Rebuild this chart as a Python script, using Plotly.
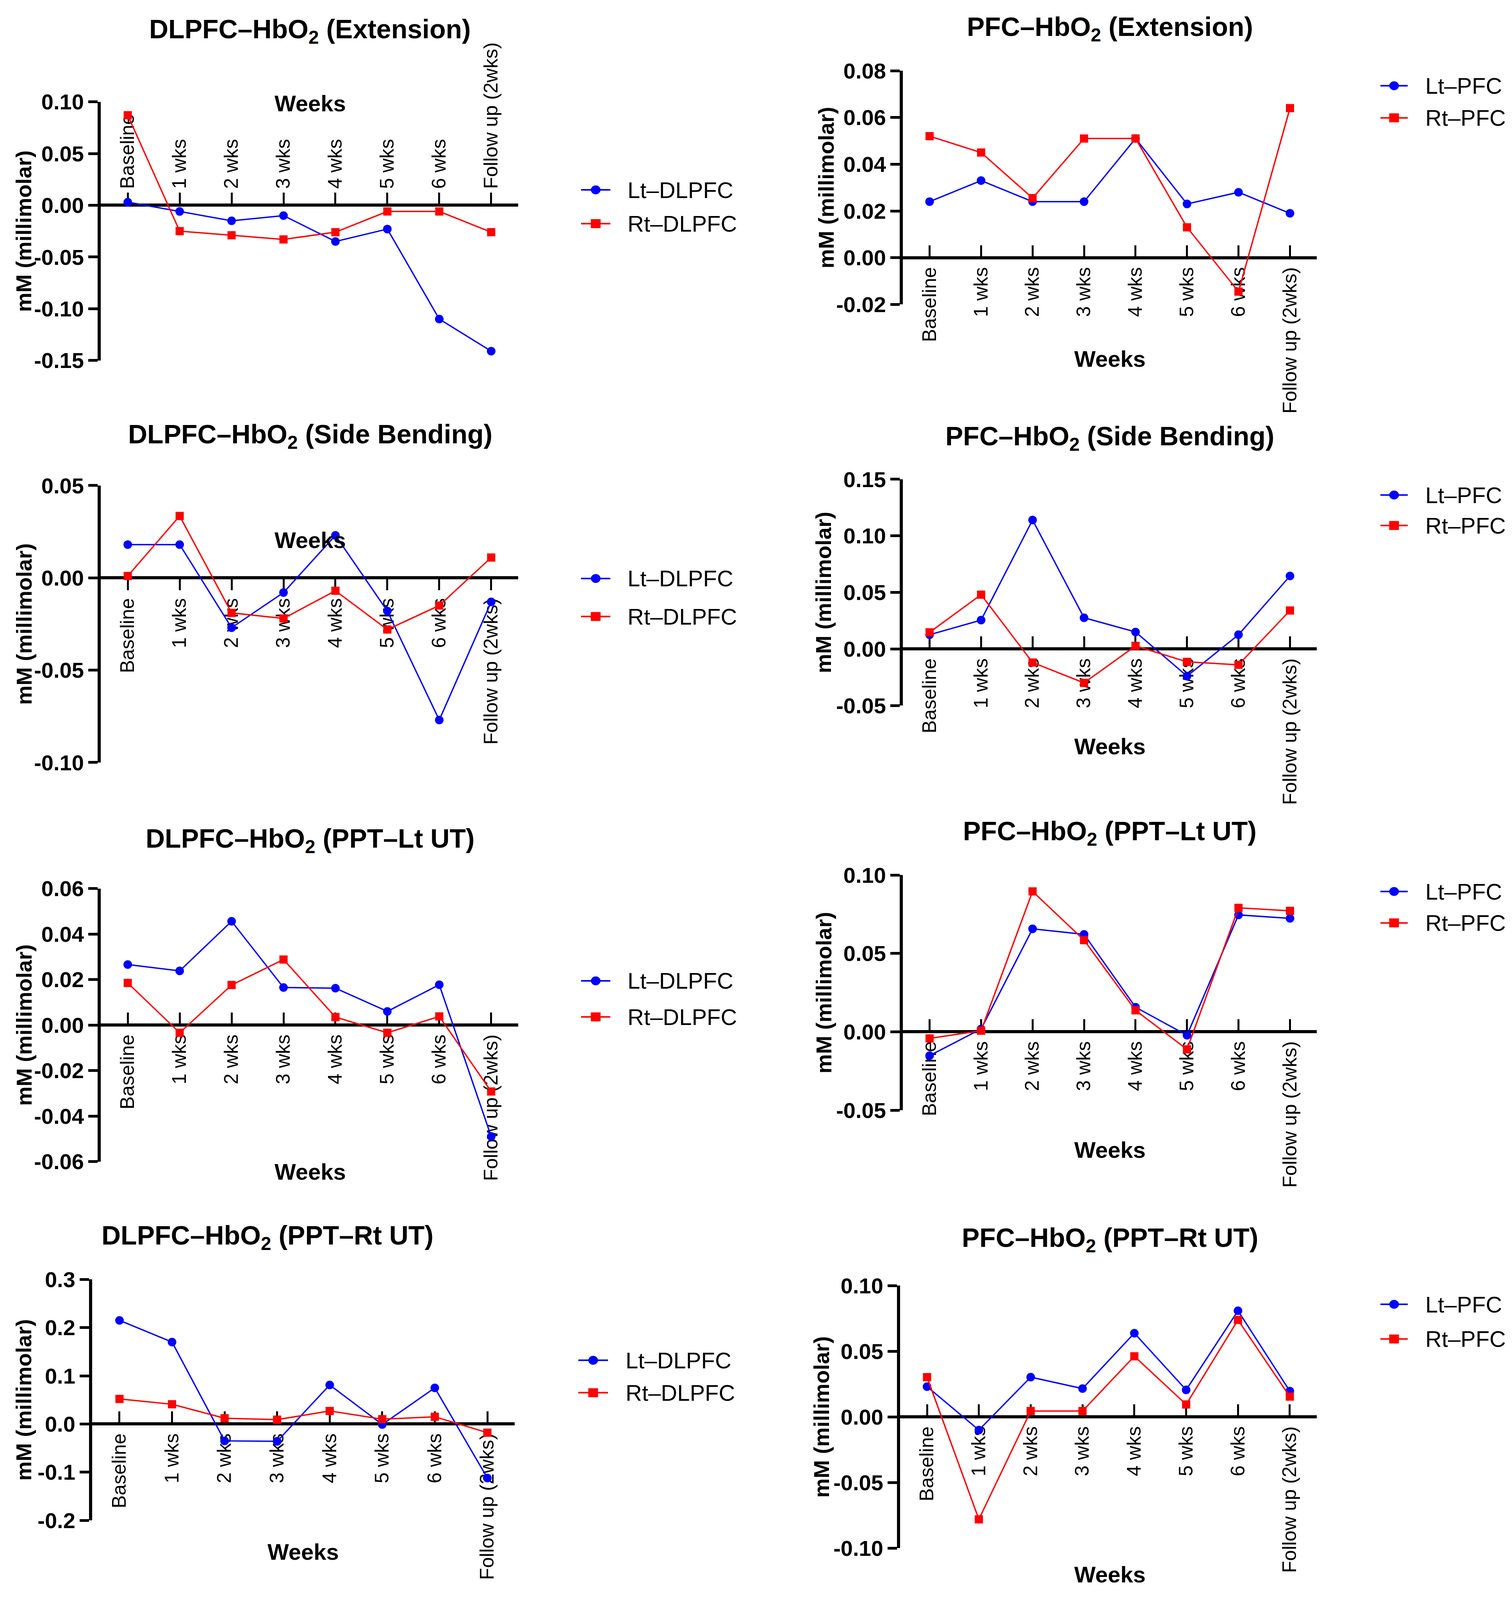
import plotly.graph_objects as go

W, H = 3872, 4812
FONT = "Liberation Sans, Arial, sans-serif"

categories = ["Baseline", "1 wks", "2 wks", "3 wks", "4 wks", "5 wks", "6 wks", "Follow up (2wks)"]

ext_dlpfc_lt = [0.003, -0.006, -0.015, -0.010, -0.035, -0.023, -0.110, -0.141]
ext_dlpfc_rt = [0.087, -0.025, -0.029, -0.033, -0.026, -0.006, -0.006, -0.026]
ext_pfc_lt = [0.024, 0.033, 0.024, 0.024, 0.051, 0.023, 0.028, 0.019]
ext_pfc_rt = [0.052, 0.045, 0.0255, 0.051, 0.051, 0.013, -0.0145, 0.064]
sb_dlpfc_lt = [0.018, 0.018, -0.027, -0.008, 0.023, -0.018, -0.077, -0.013]
sb_dlpfc_rt = [0.001, 0.0335, -0.019, -0.022, -0.007, -0.028, -0.015, 0.011]
sb_pfc_lt = [0.0126, 0.0255, 0.114, 0.0276, 0.015, -0.024, 0.0126, 0.0645]
sb_pfc_rt = [0.0147, 0.048, -0.012, -0.030, 0.0027, -0.0114, -0.014, 0.034]
lut_dlpfc_lt = [0.0266, 0.0238, 0.0456, 0.0165, 0.0162, 0.006, 0.0177, -0.049]
lut_dlpfc_rt = [0.0185, -0.0034, 0.0176, 0.0288, 0.0035, -0.0034, 0.0038, -0.0292]
lut_pfc_lt = [-0.0152, 0.0018, 0.0657, 0.0622, 0.0157, -0.0022, 0.0746, 0.0724]
lut_pfc_rt = [-0.0042, 0.0007, 0.0896, 0.0585, 0.0137, -0.0112, 0.0791, 0.0772]
rut_dlpfc_lt = [0.215, 0.170, -0.035, -0.036, 0.081, -0.001, 0.075, -0.112]
rut_dlpfc_rt = [0.052, 0.041, 0.012, 0.009, 0.027, 0.010, 0.015, -0.018]
rut_pfc_lt = [0.0231, -0.010, 0.0303, 0.0216, 0.0638, 0.0206, 0.0809, 0.0197]
rut_pfc_rt = [0.0303, -0.078, 0.0045, 0.0045, 0.0462, 0.0095, 0.0739, 0.0155]

titles = [
    "DLPFC–HbO<sub>2</sub> (Extension)", "PFC–HbO<sub>2</sub> (Extension)",
    "DLPFC–HbO<sub>2</sub> (Side Bending)", "PFC–HbO<sub>2</sub> (Side Bending)",
    "DLPFC–HbO<sub>2</sub> (PPT–Lt UT)", "PFC–HbO<sub>2</sub> (PPT–Lt UT)",
    "DLPFC–HbO<sub>2</sub> (PPT–Rt UT)", "PFC–HbO<sub>2</sub> (PPT–Rt UT)",
]
series_names = [("Lt–DLPFC", "Rt–DLPFC"), ("Lt–PFC", "Rt–PFC")] * 4
series = [
    (ext_dlpfc_lt, ext_dlpfc_rt), (ext_pfc_lt, ext_pfc_rt),
    (sb_dlpfc_lt, sb_dlpfc_rt), (sb_pfc_lt, sb_pfc_rt),
    (lut_dlpfc_lt, lut_dlpfc_rt), (lut_pfc_lt, lut_pfc_rt),
    (rut_dlpfc_lt, rut_dlpfc_rt), (rut_pfc_lt, rut_pfc_rt),
]
y_ticks = [
    [-0.15, -0.10, -0.05, 0.00, 0.05, 0.10],
    [-0.02, 0.00, 0.02, 0.04, 0.06, 0.08],
    [-0.10, -0.05, 0.00, 0.05],
    [-0.05, 0.00, 0.05, 0.10, 0.15],
    [-0.06, -0.04, -0.02, 0.00, 0.02, 0.04, 0.06],
    [-0.05, 0.00, 0.05, 0.10],
    [-0.2, -0.1, 0.0, 0.1, 0.2, 0.3],
    [-0.10, -0.05, 0.00, 0.05, 0.10],
]
y_decimals = [2, 2, 2, 2, 2, 2, 1, 2]
y_axis_title = "mM (millimolar)"
x_axis_title = "Weeks"

LT_COLOR = "#0000ff"
RT_COLOR = "#ff0000"

# layout geometry in reference pixels
geom = [
    dict(x=(258, 1327), y=(274, 1064), title=(794, 57), weeks=(794, 279), leg=(1488, 1563, 1605, 543, 646), ytx=61, side="top", ticks="outside"),
    dict(x=(2312, 3372), y=(179, 893), title=(2842, 50), weeks=(2842, 1059), leg=(3535, 3605, 3648, 225, 323), ytx=2115, side="bottom", ticks="inside"),
    dict(x=(258, 1327), y=(1446, 2292), title=(794, 1294), weeks=(794, 1612), leg=(1488, 1563, 1605, 1730, 1846), ytx=61, side="bottom", ticks="outside"),
    dict(x=(2312, 3372), y=(1427, 2118), title=(2842, 1300), weeks=(2842, 2243), leg=(3535, 3605, 3648, 1475, 1568), ytx=2109, side="bottom", ticks="inside"),
    dict(x=(258, 1327), y=(2677, 3511), title=(794, 2530), weeks=(794, 3542), leg=(1488, 1563, 1605, 2959, 3069), ytx=61, side="bottom", ticks="inside"),
    dict(x=(2312, 3372), y=(2636, 3354), title=(2842, 2507), weeks=(2842, 3475), leg=(3535, 3605, 3648, 2686, 2782), ytx=2109, side="bottom", ticks="inside"),
    dict(x=(236, 1318), y=(3871, 4607), title=(685, 3742), weeks=(776, 4703), leg=(1481, 1557, 1600, 4118, 4217), ytx=61, side="bottom", ticks="inside"),
    dict(x=(2305, 3372), y=(3890, 4692), title=(2842, 3749), weeks=(2842, 4772), leg=(3535, 3605, 3648, 3947, 4053), ytx=2103, side="bottom", ticks="inside"),
]


def fx(px):
    return px / W


def fy(py):
    return 1 - py / H


fig = go.Figure()
layout = dict(
    autosize=True, margin=dict(l=0, r=0, t=0, b=0, pad=0),
    paper_bgcolor="white", plot_bgcolor="white",
    font=dict(family=FONT, color="black"),
    annotations=[], shapes=[], showlegend=False,
)

for i in range(8):
    n = i + 1
    sfx = "" if n == 1 else str(n)
    g = geom[i]
    lt, rt = series[i]
    lt_name, rt_name = series_names[i]
    fig.add_trace(go.Scatter(
        x=categories, y=lt, name=lt_name, mode="lines+markers",
        line=dict(color=LT_COLOR, width=3.5),
        marker=dict(symbol="circle", size=22, color=LT_COLOR),
        xaxis=f"x{sfx}", yaxis=f"y{sfx}",
    ))
    fig.add_trace(go.Scatter(
        x=categories, y=rt, name=rt_name, mode="lines+markers",
        line=dict(color=RT_COLOR, width=3.5),
        marker=dict(symbol="square", size=21, color=RT_COLOR),
        xaxis=f"x{sfx}", yaxis=f"y{sfx}",
    ))

    ymin, ymax = y_ticks[i][0], y_ticks[i][-1]
    yd = [fy(g["y"][1]), fy(g["y"][0])]
    zero_pos = yd[0] + (0 - ymin) / (ymax - ymin) * (yd[1] - yd[0])
    d = y_decimals[i]
    ticktext = [f"{v:.{d}f}" for v in y_ticks[i]]

    layout[f"xaxis{sfx}"] = dict(
        domain=[fx(g["x"][0]), fx(g["x"][1])], anchor="free", position=zero_pos,
        type="category", range=[-0.52, 7.52], side=g["side"],
        showline=True, linecolor="black", linewidth=8,
        ticks=g["ticks"], ticklen=28, tickwidth=5, tickcolor="black",
        tickangle=-90, tickfont=dict(family=FONT, size=50, color="black"),
        showgrid=False, zeroline=False, layer="below traces",
    )
    layout[f"yaxis{sfx}"] = dict(
        domain=yd, anchor=f"x{sfx}", range=[ymin, ymax],
        tickmode="array", tickvals=y_ticks[i], ticktext=ticktext,
        showline=True, linecolor="black", linewidth=8,
        ticks="outside", ticklen=24, tickwidth=7, tickcolor="black",
        tickfont=dict(family=FONT, size=56, color="black", weight="bold"),
        showgrid=False, zeroline=False,
    )

    # panel legend: line segment + marker + label
    lx0, lx1, tx, ly1, ly2 = g["leg"]
    for (name, color, sym, ly) in ((lt_name, LT_COLOR, "circle", ly1), (rt_name, RT_COLOR, "rect", ly2)):
        layout["shapes"].append(dict(
            type="line", xref="paper", yref="paper",
            x0=fx(lx0), x1=fx(lx1), y0=fy(ly), y1=fy(ly),
            line=dict(color=color, width=4),
        ))
        layout["shapes"].append(dict(
            type=sym, xref="paper", yref="paper",
            xsizemode="pixel", ysizemode="pixel",
            xanchor=fx((lx0 + lx1) / 2), yanchor=fy(ly),
            x0=-12, x1=12, y0=-11, y1=11,
            fillcolor=color, line=dict(color=color, width=1),
        ))
        layout["annotations"].append(dict(
            text=name, x=fx(tx), y=fy(ly), xref="paper", yref="paper",
            xanchor="left", yanchor="middle", showarrow=False,
            font=dict(family=FONT, size=58, color="black"),
        ))

    layout["annotations"].append(dict(
        text=titles[i], x=fx(g["title"][0]), y=fy(g["title"][1]),
        xref="paper", yref="paper", xanchor="center", yanchor="middle",
        showarrow=False, font=dict(family=FONT, size=68, color="black", weight="bold"),
    ))
    layout["annotations"].append(dict(
        text=x_axis_title, x=fx(g["weeks"][0]), y=fy(g["weeks"][1]),
        xref="paper", yref="paper", xanchor="center", yanchor="middle",
        showarrow=False, font=dict(family=FONT, size=58, color="black", weight="bold"),
    ))
    layout["annotations"].append(dict(
        text=y_axis_title, x=fx(g["ytx"]), y=fy((g["y"][0] + g["y"][1]) / 2),
        xref="paper", yref="paper", xanchor="center", yanchor="middle",
        textangle=-90, showarrow=False,
        font=dict(family=FONT, size=56, color="black", weight="bold"),
    ))

fig.update_layout(**layout)

fit_script = (
    "document.documentElement.style.margin='0';"
    "document.body.style.margin='0';"
    "document.documentElement.style.overflow='hidden';"
    "Plotly.Plots.resize(document.getElementById('{plot_id}'));"
)
fig.write_html(
    "out.html",
    config={"displayModeBar": False},
    default_width="100vw",
    default_height="100vh",
    post_script=fit_script,
)
